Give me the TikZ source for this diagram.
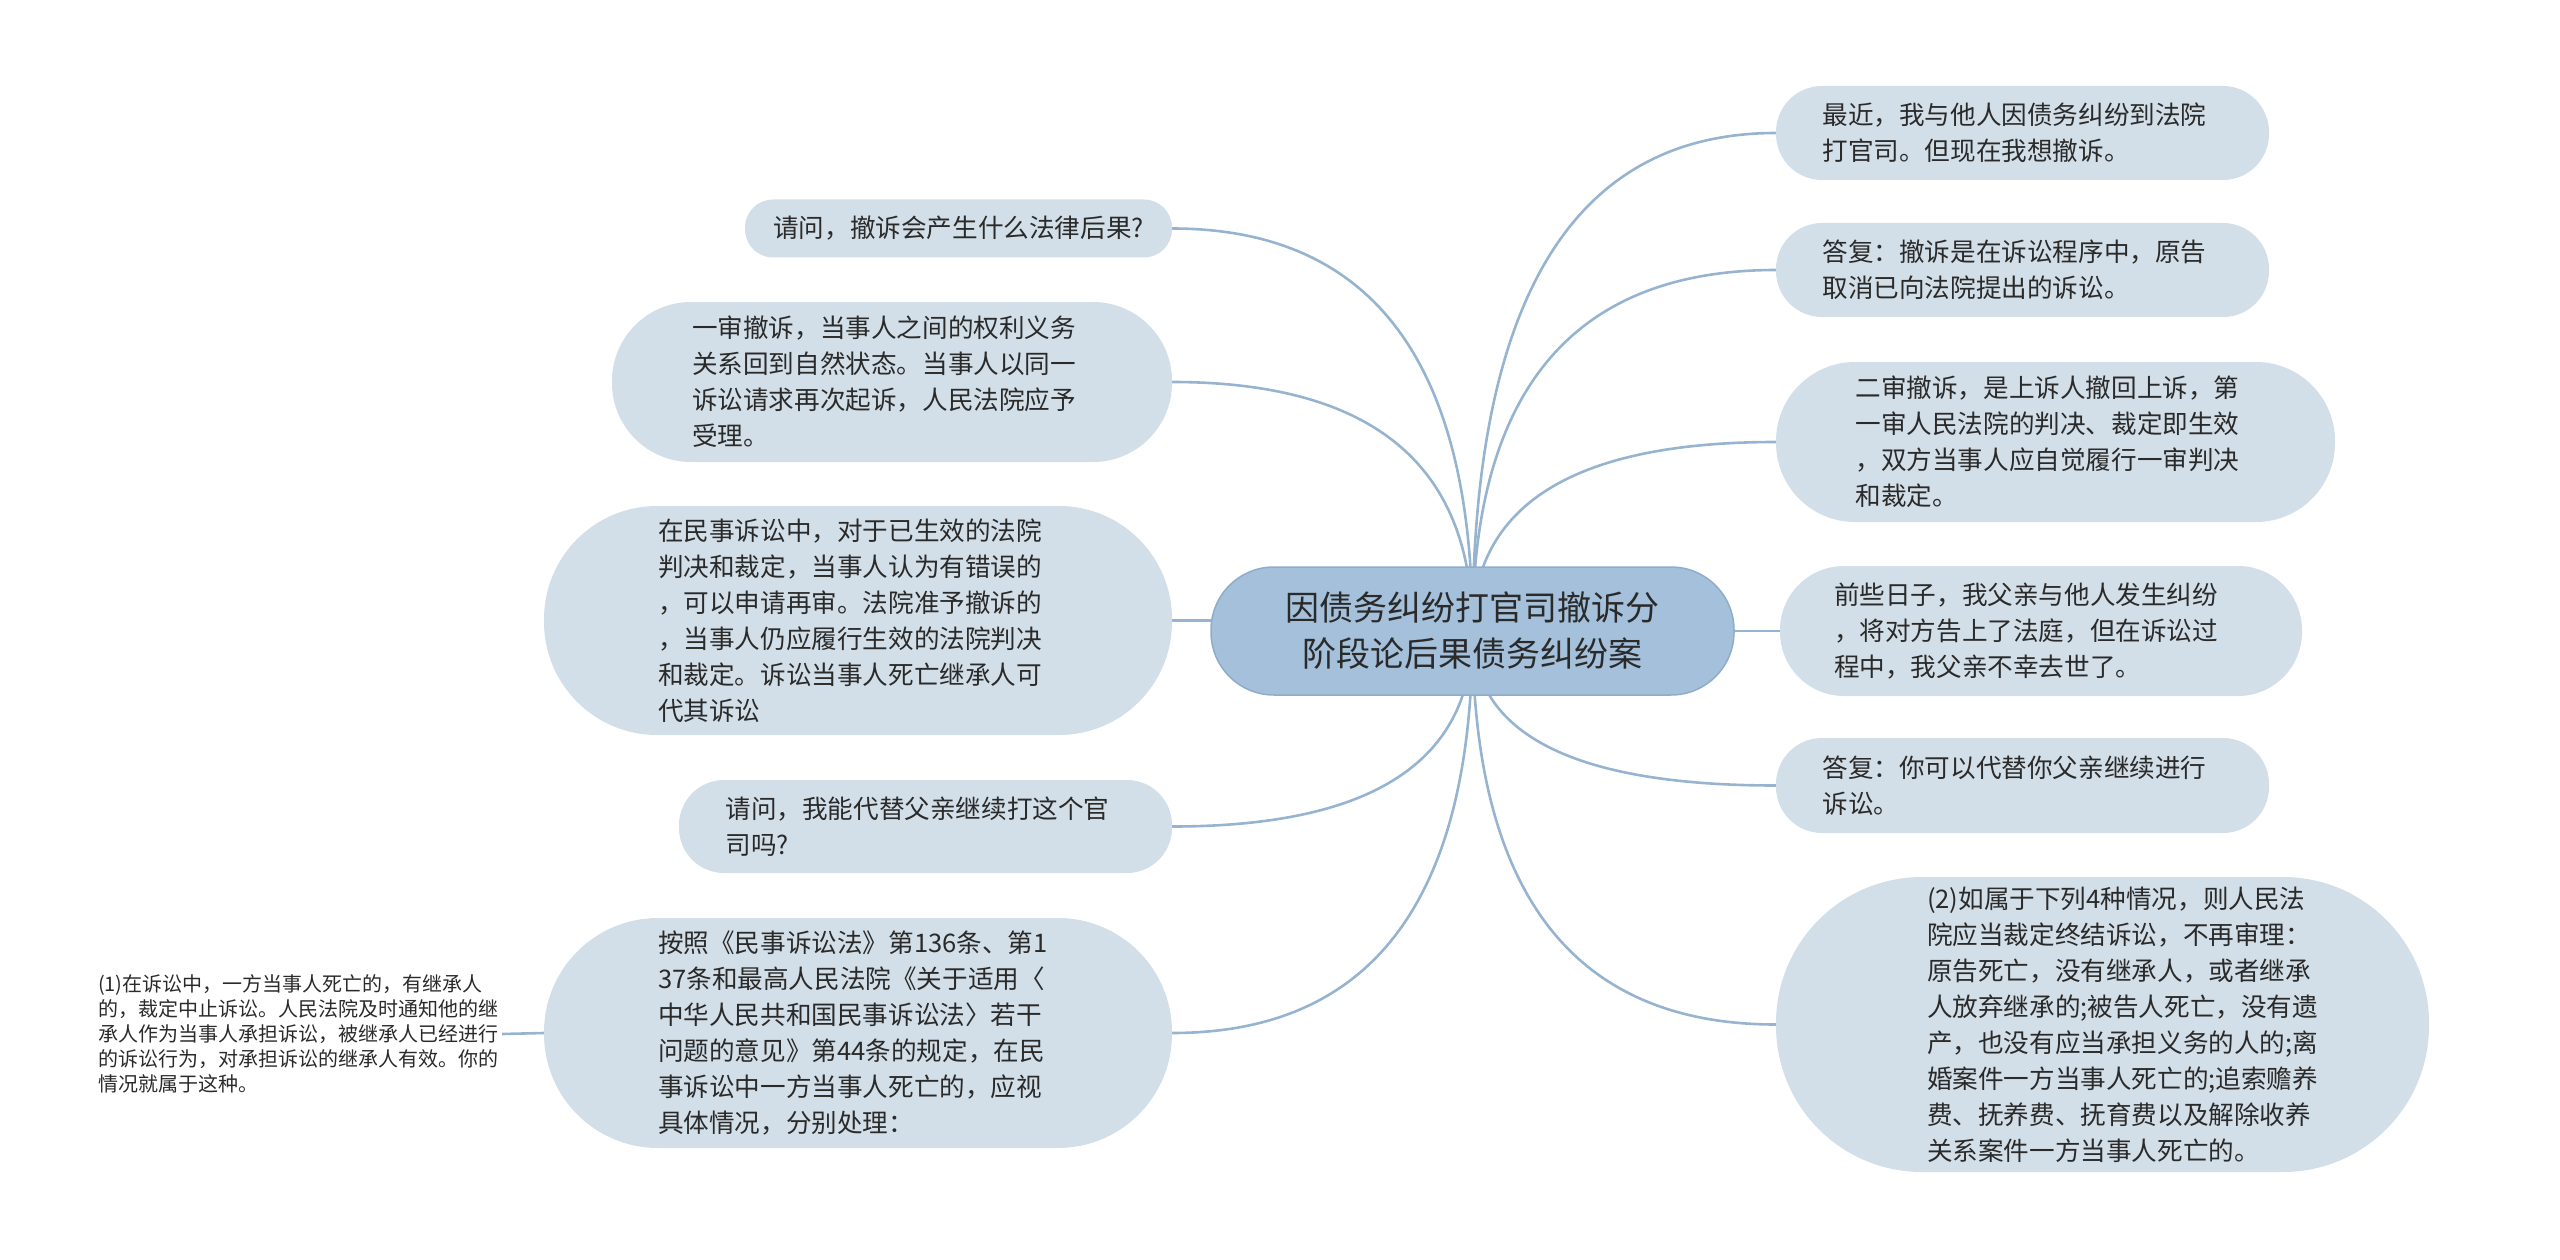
\documentclass[tikz,border=0pt]{standalone}
\usepackage{fontspec}
\setmainfont{Noto Sans CJK SC}
\usetikzlibrary{calc,backgrounds}
\definecolor{rootfill}{HTML}{A4C0DA}
\definecolor{rootline}{HTML}{8DADCB}
\definecolor{childfill}{HTML}{D3DFE8}
\definecolor{linkc}{HTML}{96B4D0}
\definecolor{txt}{HTML}{2A2A2A}
\hbadness=10000 \hfuzz=200pt
\newcommand\rlink[1]{\draw[link] (root.center) .. controls ($(root.center)!0.667!(root.center |- #1.west)$) and ($(#1.west)!0.667!(root.center |- #1.west)$) .. (#1.west);}
\newcommand\llink[1]{\draw[link] (root.center) .. controls ($(root.center)!0.667!(root.center |- #1.east)$) and ($(#1.east)!0.667!(root.center |- #1.east)$) .. (#1.east);}
\begin{document}
\begin{tikzpicture}[x=1pt,y=-1pt,
  rootbox/.style={rectangle, fill=rootfill, draw=rootline, line width=1.5pt, inner sep=0pt, align=center, text=txt, font=\fontsize{34}{46}\selectfont},
  childbox/.style={rectangle, fill=childfill, inner sep=0pt, align=left, text=txt, font=\fontsize{25.6}{36}\selectfont, text width=400pt},
  plaintext/.style={inner xsep=4pt, inner ysep=0pt, align=left, text=txt, font=\fontsize{20}{25}\selectfont, text width=400pt},
  link/.style={draw=linkc, line width=2.6pt},
]
\useasboundingbox (0,0) rectangle (2560,1260);

\node[rootbox, minimum width=523pt, minimum height=128pt, rounded corners=63pt] (root) at (1472.5,631) {因债务纠纷打官司撤诉分\\阶段论后果债务纠纷案};

% right side
\node[childbox, minimum width=493pt, minimum height=94pt, rounded corners=46pt] (n1) at (2022.5,133) {最近，我与他人因债务纠纷到法院\\打官司。但现在我想撤诉。};
\node[childbox, minimum width=493pt, minimum height=94pt, rounded corners=46pt] (n2) at (2022.5,270) {答复：撤诉是在诉讼程序中，原告\\取消已向法院提出的诉讼。};
\node[childbox, minimum width=559pt, minimum height=160pt, rounded corners=79pt] (n3) at (2055.5,442) {二审撤诉，是上诉人撤回上诉，第\\一审人民法院的判决、裁定即生效\\，双方当事人应自觉履行一审判决\\和裁定。};
\node[childbox, text width=414pt, minimum width=522pt, minimum height=130pt, rounded corners=64pt] (n4) at (2041,631) {前些日子，我父亲与他人发生纠纷\\，将对方告上了法庭，但在诉讼过\\程中，我父亲不幸去世了。};
\node[childbox, minimum width=493pt, minimum height=95pt, rounded corners=46pt] (n5) at (2022.5,785.5) {答复：你可以代替你父亲继续进行\\诉讼。};
\node[childbox, text width=351pt, minimum width=653pt, minimum height=295pt, rounded corners=146pt] (n6) at (2102.5,1024.5) {(2)如属于下列4种情况，则人民法\\院应当裁定终结诉讼，不再审理：\\原告死亡，没有继承人，或者继承\\人放弃继承的;被告人死亡，没有遗\\产，也没有应当承担义务的人的;离\\婚案件一方当事人死亡的;追索赡养\\费、抚养费、抚育费以及解除收养\\关系案件一方当事人死亡的。};

% left side
\node[childbox, text width=, align=center, minimum width=427pt, minimum height=58pt, rounded corners=28pt] (n7) at (958.5,228.5) {请问，撤诉会产生什么法律后果?};
\node[childbox, minimum width=560pt, minimum height=160pt, rounded corners=79pt] (n8) at (892,382) {一审撤诉，当事人之间的权利义务\\关系回到自然状态。当事人以同一\\诉讼请求再次起诉，人民法院应予\\受理。};
\node[childbox, minimum width=628pt, minimum height=229pt, rounded corners=113pt] (n9) at (858,620.5) {在民事诉讼中，对于已生效的法院\\判决和裁定，当事人认为有错误的\\，可以申请再审。法院准予撤诉的\\，当事人仍应履行生效的法院判决\\和裁定。诉讼当事人死亡继承人可\\代其诉讼};
\node[childbox, minimum width=493pt, minimum height=93pt, rounded corners=45pt] (n10) at (925.5,826.5) {请问，我能代替父亲继续打这个官\\司吗?};
\node[childbox, minimum width=628pt, minimum height=230pt, rounded corners=114pt] (n11) at (858,1033) {按照《民事诉讼法》第136条、第1\\37条和最高人民法院《关于适用〈\\中华人民共和国民事诉讼法〉若干\\问题的意见》第44条的规定，在民\\事诉讼中一方当事人死亡的，应视\\具体情况，分别处理：};
\node[plaintext] (n12) at (298,1034) {(1)在诉讼中，一方当事人死亡的，有继承人\\的，裁定中止诉讼。人民法院及时通知他的继\\承人作为当事人承担诉讼，被继承人已经进行\\的诉讼行为，对承担诉讼的继承人有效。你的\\情况就属于这种。};

\begin{pgfonlayer}{background}
\rlink{n1}
\rlink{n2}
\rlink{n3}
\rlink{n4}
\rlink{n5}
\rlink{n6}
\llink{n7}
\llink{n8}
\llink{n9}
\llink{n10}
\llink{n11}
\draw[link] (n11.west) -- (n12.east);
\end{pgfonlayer}
\end{tikzpicture}
\end{document}
